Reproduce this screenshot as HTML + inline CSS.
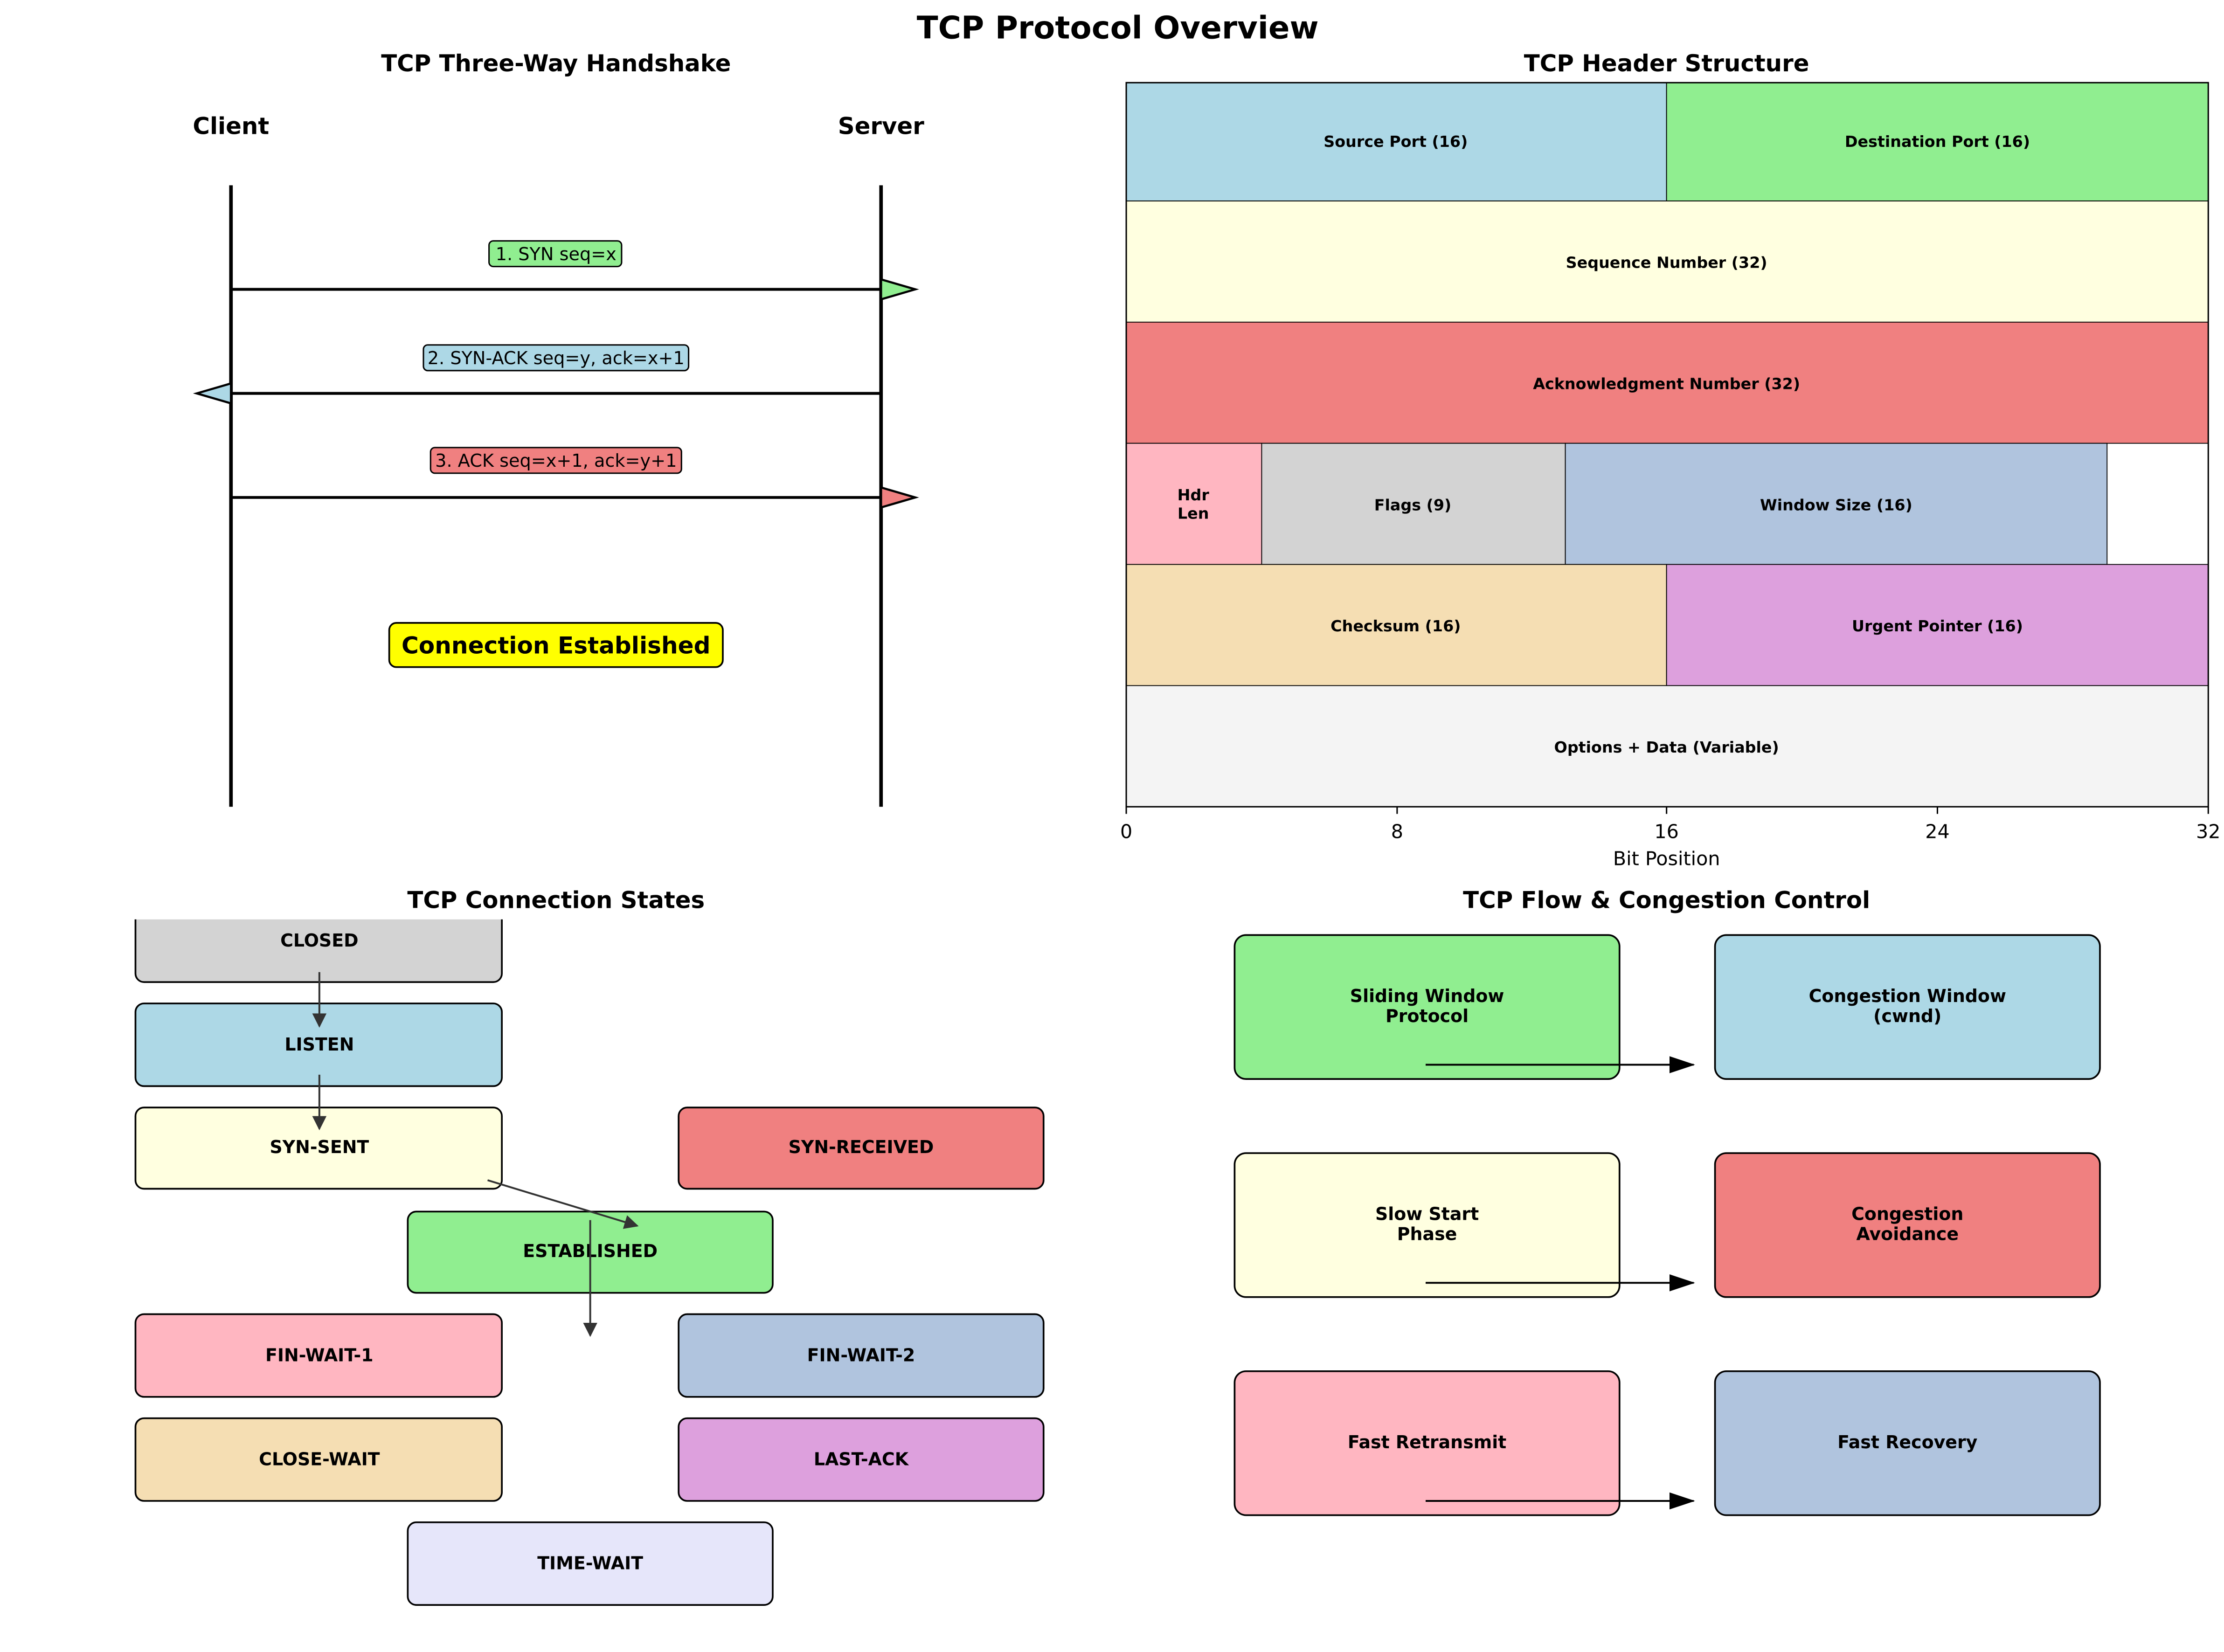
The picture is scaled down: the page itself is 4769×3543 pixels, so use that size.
<!DOCTYPE html>
<html><head><meta charset="utf-8"><style>html,body{margin:0;padding:0;background:#fff}svg{display:block}</style></head><body>
<svg xmlns="http://www.w3.org/2000/svg" width="4769" height="3543" viewBox="0 0 1560 1159" font-family="DejaVu Sans, Liberation Sans, sans-serif">
<defs>
<marker id="ah" markerWidth="10" markerHeight="10" refX="9" refY="5" orient="auto" markerUnits="userSpaceOnUse"><path d="M0,0 L10,5 L0,10 z" fill="#333"/></marker>
<marker id="bh" markerWidth="18" markerHeight="12" refX="17" refY="6" orient="auto" markerUnits="userSpaceOnUse"><path d="M0,0 L18,6 L0,12 z" fill="#000"/></marker>
<clipPath id="c3"><rect x="0" y="645" width="780" height="520"/></clipPath>
</defs>
<rect width="1560" height="1159" fill="#fff"/>
<text x="784" y="27" font-size="22" font-weight="bold" text-anchor="middle">TCP Protocol Overview</text>

<!-- Panel 1 -->
<text x="390" y="50" font-size="16.3" font-weight="bold" text-anchor="middle">TCP Three-Way Handshake</text>
<text x="162" y="94" font-size="16.3" font-weight="bold" text-anchor="middle">Client</text>
<text x="618" y="94" font-size="16.3" font-weight="bold" text-anchor="middle">Server</text>
<line x1="162" y1="130" x2="162" y2="566" stroke="#000" stroke-width="2.5"/>
<line x1="618" y1="130" x2="618" y2="566" stroke="#000" stroke-width="2.5"/>
<g stroke="#000" stroke-width="2">
<line x1="162" y1="203" x2="618" y2="203"/>
<polygon points="618,196 642,203 618,210" fill="#90ee90" stroke-width="1.5"/>
<line x1="162" y1="276" x2="618" y2="276"/>
<polygon points="162,269 138,276 162,283" fill="#add8e6" stroke-width="1.5"/>
<line x1="162" y1="349" x2="618" y2="349"/>
<polygon points="618,342 642,349 618,356" fill="#f08080" stroke-width="1.5"/>
</g>
<g font-size="12.5" text-anchor="middle" stroke-width="1">
<rect x="343" y="169" width="93" height="18" rx="3" fill="#90ee90" stroke="#000"/>
<text x="390" y="182.5">1. SYN seq=x</text>
<rect x="297" y="242" width="186" height="18" rx="3" fill="#add8e6" stroke="#000"/>
<text x="390" y="255.5">2. SYN-ACK seq=y, ack=x+1</text>
<rect x="302" y="314" width="176" height="18" rx="3" fill="#f08080" stroke="#000"/>
<text x="390" y="327.5">3. ACK seq=x+1, ack=y+1</text>
</g>
<rect x="273" y="437" width="234" height="31" rx="5" fill="#ffff00" stroke="#000" stroke-width="1.2"/>
<text x="390" y="458.5" font-size="16.4" font-weight="bold" text-anchor="middle">Connection Established</text>

<!-- Panel 2 -->
<text x="1169" y="50" font-size="16.3" font-weight="bold" text-anchor="middle">TCP Header Structure</text>
<g stroke="#000" stroke-width="0.6">
<rect x="790" y="58" width="379" height="83" fill="#add8e6"/>
<rect x="1169" y="58" width="380" height="83" fill="#90ee90"/>
<rect x="790" y="141" width="759" height="85" fill="#ffffe0"/>
<rect x="790" y="226" width="759" height="85" fill="#f08080"/>
<rect x="790" y="311" width="95" height="85" fill="#ffb6c1"/>
<rect x="885" y="311" width="213" height="85" fill="#d3d3d3"/>
<rect x="1098" y="311" width="380" height="85" fill="#b0c4de"/>
<rect x="790" y="396" width="379" height="85" fill="#f5deb3"/>
<rect x="1169" y="396" width="380" height="85" fill="#dda0dd"/>
<rect x="790" y="481" width="759" height="85" fill="#f4f4f4"/>
</g>
<rect x="790" y="58" width="759" height="508" fill="none" stroke="#000" stroke-width="1"/>
<g font-size="10.9" font-weight="bold" text-anchor="middle">
<text x="979" y="103">Source Port (16)</text>
<text x="1359" y="103">Destination Port (16)</text>
<text x="1169" y="188">Sequence Number (32)</text>
<text x="1169" y="273">Acknowledgment Number (32)</text>
<text x="837" y="351">Hdr</text><text x="837" y="364">Len</text>
<text x="991" y="358">Flags (9)</text>
<text x="1288" y="358">Window Size (16)</text>
<text x="979" y="443">Checksum (16)</text>
<text x="1359" y="443">Urgent Pointer (16)</text>
<text x="1169" y="528">Options + Data (Variable)</text>
</g>
<g stroke="#000" stroke-width="1">
<line x1="790" y1="566" x2="790" y2="571"/><line x1="980" y1="566" x2="980" y2="571"/><line x1="1169" y1="566" x2="1169" y2="571"/><line x1="1359" y1="566" x2="1359" y2="571"/><line x1="1549" y1="566" x2="1549" y2="571"/>
</g>
<g font-size="13.5" text-anchor="middle">
<text x="790" y="588">0</text><text x="980" y="588">8</text><text x="1169" y="588">16</text><text x="1359" y="588">24</text><text x="1549" y="588">32</text>
<text x="1169" y="607">Bit Position</text>
</g>

<!-- Panel 3 -->
<text x="390" y="637" font-size="16.3" font-weight="bold" text-anchor="middle">TCP Connection States</text>
<g clip-path="url(#c3)" stroke="#000" stroke-width="1.2">
<rect x="95" y="631" width="257" height="58" rx="6" fill="#d3d3d3"/>
<rect x="95" y="704" width="257" height="58" rx="6" fill="#add8e6"/>
<rect x="95" y="777" width="257" height="57" rx="6" fill="#ffffe0"/>
<rect x="476" y="777" width="256" height="57" rx="6" fill="#f08080"/>
<rect x="286" y="850" width="256" height="57" rx="6" fill="#90ee90"/>
<rect x="95" y="922" width="257" height="58" rx="6" fill="#ffb6c1"/>
<rect x="476" y="922" width="256" height="58" rx="6" fill="#b0c4de"/>
<rect x="95" y="995" width="257" height="58" rx="6" fill="#f5deb3"/>
<rect x="476" y="995" width="256" height="58" rx="6" fill="#dda0dd"/>
<rect x="286" y="1068" width="256" height="58" rx="6" fill="#e6e6fa"/>
</g>
<g font-size="12.4" font-weight="bold" text-anchor="middle">
<text x="224" y="664">CLOSED</text>
<text x="224" y="737">LISTEN</text>
<text x="224" y="809">SYN-SENT</text>
<text x="604" y="809">SYN-RECEIVED</text>
<text x="414" y="882">ESTABLISHED</text>
<text x="224" y="955">FIN-WAIT-1</text>
<text x="604" y="955">FIN-WAIT-2</text>
<text x="224" y="1028">CLOSE-WAIT</text>
<text x="604" y="1028">LAST-ACK</text>
<text x="414" y="1101">TIME-WAIT</text>
</g>
<g stroke="#333" stroke-width="1.3" marker-end="url(#ah)">
<line x1="224" y1="682" x2="224" y2="720"/>
<line x1="224" y1="754" x2="224" y2="792"/>
<line x1="342" y1="828" x2="447" y2="860"/>
<line x1="414" y1="856" x2="414" y2="937"/>
</g>

<!-- Panel 4 -->
<text x="1169" y="637" font-size="16.3" font-weight="bold" text-anchor="middle">TCP Flow &amp; Congestion Control</text>
<g stroke="#000" stroke-width="1.2">
<rect x="866" y="656" width="270" height="101" rx="8" fill="#90ee90"/>
<rect x="1203" y="656" width="270" height="101" rx="8" fill="#add8e6"/>
<rect x="866" y="809" width="270" height="101" rx="8" fill="#ffffe0"/>
<rect x="1203" y="809" width="270" height="101" rx="8" fill="#f08080"/>
<rect x="866" y="962" width="270" height="101" rx="8" fill="#ffb6c1"/>
<rect x="1203" y="962" width="270" height="101" rx="8" fill="#b0c4de"/>
</g>
<g font-size="12.4" font-weight="bold" text-anchor="middle">
<text x="1001" y="703">Sliding Window</text><text x="1001" y="717">Protocol</text>
<text x="1338" y="703">Congestion Window</text><text x="1338" y="717">(cwnd)</text>
<text x="1001" y="856">Slow Start</text><text x="1001" y="870">Phase</text>
<text x="1338" y="856">Congestion</text><text x="1338" y="870">Avoidance</text>
<text x="1001" y="1016">Fast Retransmit</text>
<text x="1338" y="1016">Fast Recovery</text>
</g>
<g stroke="#000" stroke-width="1.3" marker-end="url(#bh)">
<line x1="1000" y1="747" x2="1188" y2="747"/>
<line x1="1000" y1="900" x2="1188" y2="900"/>
<line x1="1000" y1="1053" x2="1188" y2="1053"/>
</g>
</svg>
</body></html>
